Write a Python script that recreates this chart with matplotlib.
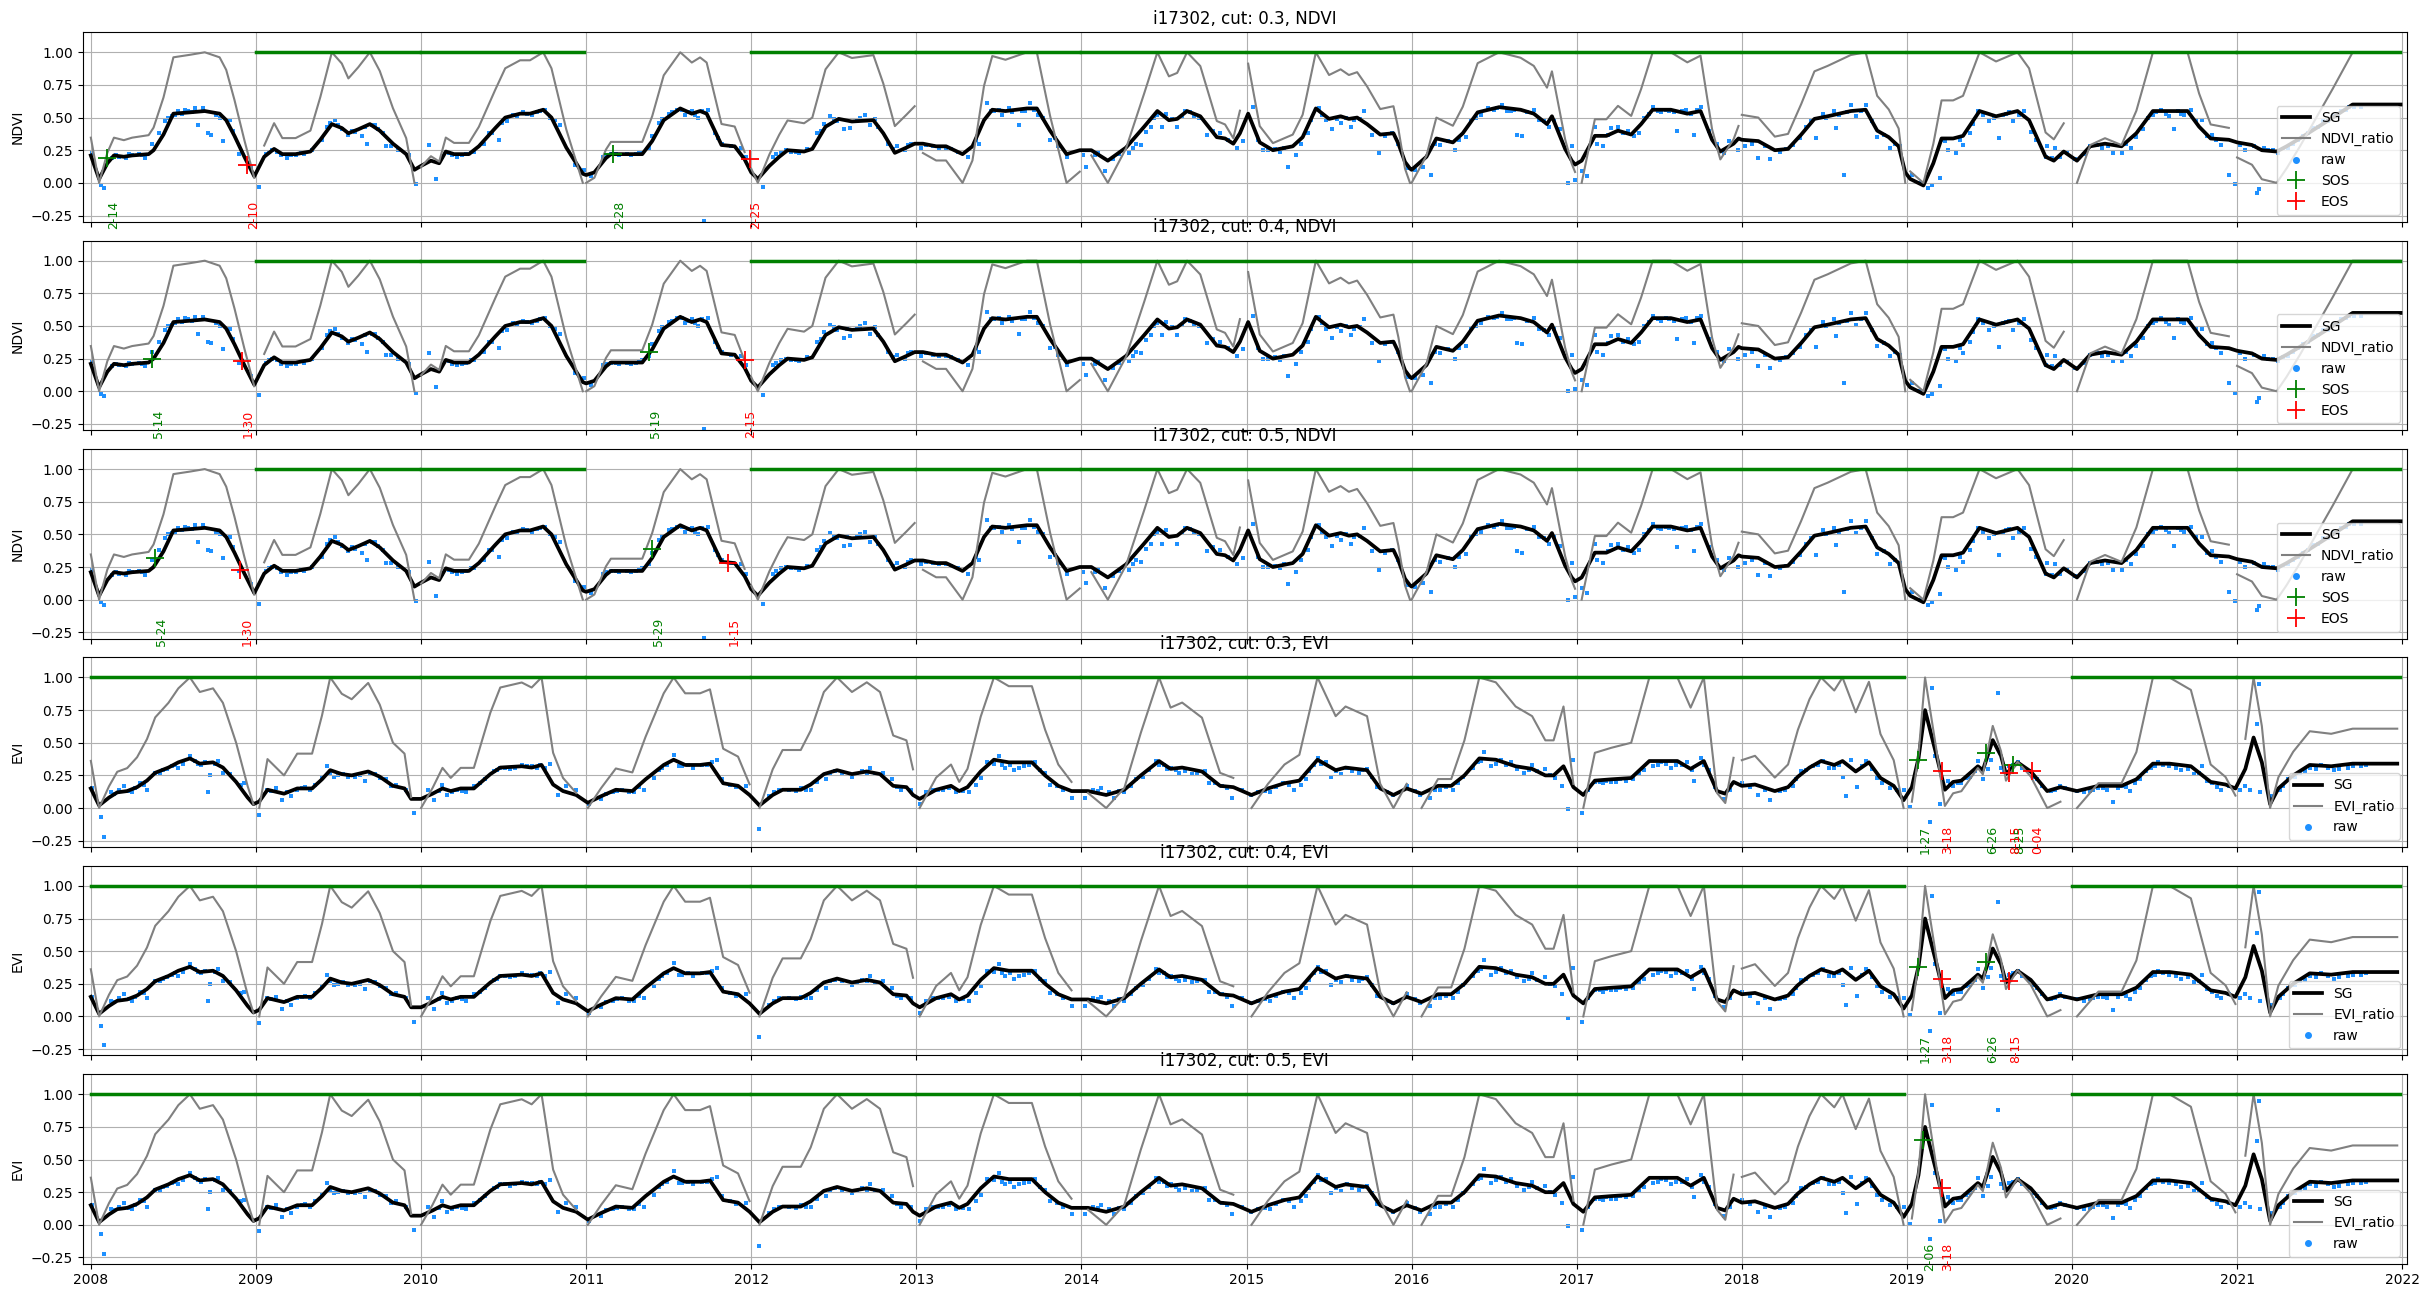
import numpy as np
import matplotlib
matplotlib.use('Agg')
import matplotlib.pyplot as plt
from matplotlib.lines import Line2D

# Smoothed (SG) NDVI curve (decimal year, value)
ndvi_sg_t = [
    2008.00, 2008.05, 2008.10, 2008.14, 2008.20, 2008.25, 2008.35, 2008.38, 2008.44, 2008.50, 2008.60, 2008.69,
    2008.78, 2008.82, 2008.87, 2008.93, 2008.99,
    2009.05, 2009.11, 2009.16, 2009.24, 2009.33, 2009.39, 2009.46, 2009.52, 2009.56, 2009.62, 2009.69, 2009.75,
    2009.83, 2009.91, 2009.96,
    2010.00, 2010.06, 2010.11, 2010.15, 2010.20, 2010.29, 2010.35, 2010.45, 2010.51, 2010.60, 2010.66, 2010.74,
    2010.79, 2010.88, 2010.94, 2010.98,
    2011.00, 2011.05, 2011.12, 2011.15, 2011.34, 2011.40, 2011.47, 2011.57, 2011.64, 2011.69, 2011.73, 2011.82,
    2011.90, 2011.96,
    2012.00, 2012.04, 2012.11, 2012.17, 2012.22, 2012.32, 2012.37, 2012.45, 2012.53, 2012.61, 2012.74, 2012.80,
    2012.87, 2012.94, 2012.99,
    2013.04, 2013.12, 2013.18, 2013.28, 2013.34, 2013.41, 2013.46, 2013.54, 2013.67, 2013.73, 2013.81, 2013.91,
    2013.99,
    2014.06, 2014.16, 2014.27, 2014.38, 2014.46, 2014.53, 2014.58, 2014.64, 2014.72, 2014.82, 2014.87, 2014.92,
    2014.96,
    2015.01, 2015.08, 2015.16, 2015.28, 2015.34, 2015.42, 2015.50, 2015.57, 2015.62, 2015.67, 2015.73, 2015.81,
    2015.89, 2015.92, 2015.96, 2015.99,
    2016.00, 2016.09, 2016.15, 2016.25, 2016.31, 2016.40, 2016.53, 2016.66, 2016.74, 2016.82, 2016.85, 2016.93,
    2016.97, 2016.99,
    2017.03, 2017.11, 2017.18, 2017.25, 2017.33, 2017.39, 2017.46, 2017.57, 2017.67, 2017.75, 2017.82, 2017.87,
    2017.95, 2017.98,
    2018.00, 2018.10, 2018.20, 2018.28, 2018.36, 2018.44, 2018.52, 2018.66, 2018.75, 2018.82, 2018.89, 2018.95,
    2018.99,
    2019.02, 2019.10, 2019.16, 2019.21, 2019.28, 2019.34, 2019.44, 2019.54, 2019.67, 2019.74, 2019.84, 2019.89,
    2019.95,
    2020.03, 2020.11, 2020.20, 2020.30, 2020.39, 2020.49, 2020.62, 2020.70, 2020.77, 2020.84, 2020.95,
    2021.00, 2021.09, 2021.15, 2021.24, 2021.30, 2021.38, 2021.48, 2021.58, 2021.70, 2021.99,
]
ndvi_sg = [
    0.21, 0.03, 0.15, 0.21, 0.20, 0.21, 0.22, 0.25, 0.37, 0.53, 0.54, 0.55,
    0.53, 0.48, 0.36, 0.20, 0.05,
    0.20, 0.26, 0.22, 0.22, 0.24, 0.33, 0.45, 0.42, 0.38, 0.41, 0.45, 0.40,
    0.30, 0.22, 0.10,
    0.13, 0.17, 0.15, 0.24, 0.22, 0.22, 0.28, 0.42, 0.50, 0.53, 0.53, 0.56,
    0.50, 0.27, 0.15, 0.07,
    0.06, 0.08, 0.19, 0.22, 0.22, 0.32, 0.48, 0.57, 0.53, 0.55, 0.53, 0.29,
    0.28, 0.18,
    0.08, 0.03, 0.13, 0.20, 0.25, 0.24, 0.26, 0.43, 0.49, 0.47, 0.48, 0.38,
    0.23, 0.27, 0.30,
    0.30, 0.28, 0.28, 0.22, 0.28, 0.48, 0.56, 0.55, 0.57, 0.57, 0.40, 0.22,
    0.25,
    0.25, 0.17, 0.27, 0.43, 0.55, 0.48, 0.49, 0.55, 0.51, 0.35, 0.34, 0.30,
    0.38,
    0.53, 0.31, 0.25, 0.28, 0.35, 0.57, 0.49, 0.51, 0.49, 0.50, 0.45, 0.37,
    0.38, 0.30, 0.16, 0.11,
    0.10, 0.20, 0.34, 0.31, 0.38, 0.54, 0.58, 0.56, 0.53, 0.45, 0.51, 0.26,
    0.17, 0.14,
    0.17, 0.36, 0.36, 0.40, 0.37, 0.45, 0.56, 0.56, 0.53, 0.55, 0.33, 0.24,
    0.30, 0.34,
    0.33, 0.32, 0.25, 0.26, 0.37, 0.49, 0.51, 0.55, 0.56, 0.40, 0.35, 0.28,
    0.08,
    0.03, -0.02, 0.15, 0.34, 0.34, 0.36, 0.55, 0.51, 0.55, 0.48, 0.20, 0.17,
    0.24,
    0.17, 0.28, 0.30, 0.28, 0.38, 0.55, 0.55, 0.55, 0.43, 0.34, 0.33,
    0.31, 0.29, 0.25, 0.24, 0.28, 0.34, 0.42, 0.50, 0.60, 0.60,
]

# Smoothed (SG) EVI curve
evi_sg_t = [
    2008.00, 2008.05, 2008.11, 2008.16, 2008.22, 2008.28, 2008.34, 2008.39, 2008.47, 2008.53, 2008.60, 2008.66,
    2008.74, 2008.80, 2008.88, 2008.95, 2008.985,
    2009.02, 2009.07, 2009.17, 2009.25, 2009.34, 2009.40, 2009.45, 2009.52, 2009.58, 2009.68, 2009.75, 2009.83,
    2009.90, 2009.94,
    2010.00, 2010.07, 2010.13, 2010.18, 2010.24, 2010.32, 2010.42, 2010.48, 2010.61, 2010.67, 2010.73, 2010.80,
    2010.86, 2010.94,
    2011.01, 2011.09, 2011.18, 2011.28, 2011.36, 2011.47, 2011.53, 2011.60, 2011.69, 2011.75, 2011.83, 2011.92,
    2011.99,
    2012.05, 2012.13, 2012.19, 2012.30, 2012.36, 2012.44, 2012.52, 2012.61, 2012.70, 2012.78, 2012.86, 2012.94,
    2012.98,
    2013.02, 2013.12, 2013.21, 2013.26, 2013.31, 2013.39, 2013.47, 2013.56, 2013.70, 2013.78, 2013.86, 2013.94,
    2014.04, 2014.15, 2014.26, 2014.36, 2014.47, 2014.54, 2014.61, 2014.73, 2014.84, 2014.92,
    2015.03, 2015.13, 2015.23, 2015.32, 2015.43, 2015.54, 2015.60, 2015.73, 2015.81, 2015.89, 2015.97,
    2016.06, 2016.16, 2016.24, 2016.32, 2016.41, 2016.51, 2016.63, 2016.73, 2016.81, 2016.86, 2016.92, 2016.98,
    2017.04, 2017.11, 2017.21, 2017.33, 2017.44, 2017.61, 2017.69, 2017.77, 2017.85, 2017.90, 2017.95,
    2018.00, 2018.08, 2018.20, 2018.28, 2018.34, 2018.41, 2018.48, 2018.56, 2018.61, 2018.69, 2018.77, 2018.84,
    2018.92, 2018.98,
    2019.03, 2019.07, 2019.11, 2019.15, 2019.18, 2019.23, 2019.28, 2019.33, 2019.43, 2019.46, 2019.52, 2019.57,
    2019.60, 2019.67, 2019.75, 2019.85, 2019.93,
    2020.03, 2020.16, 2020.30, 2020.39, 2020.49, 2020.59, 2020.72, 2020.84, 2020.93, 2020.99,
    2021.05, 2021.10, 2021.15, 2021.20, 2021.25, 2021.34, 2021.44, 2021.57, 2021.70, 2021.97,
]
evi_sg = [
    0.15, 0.02, 0.08, 0.12, 0.13, 0.16, 0.21, 0.27, 0.31, 0.35, 0.38, 0.34,
    0.35, 0.31, 0.20, 0.08, 0.03,
    0.05, 0.14, 0.11, 0.15, 0.15, 0.22, 0.29, 0.26, 0.25, 0.28, 0.24, 0.17,
    0.15, 0.07,
    0.07, 0.11, 0.15, 0.13, 0.15, 0.15, 0.26, 0.31, 0.32, 0.31, 0.33, 0.18,
    0.13, 0.10,
    0.04, 0.09, 0.14, 0.13, 0.22, 0.33, 0.37, 0.33, 0.33, 0.34, 0.19, 0.17,
    0.10,
    0.02, 0.10, 0.14, 0.14, 0.18, 0.26, 0.29, 0.26, 0.28, 0.26, 0.17, 0.16,
    0.10,
    0.07, 0.14, 0.17, 0.13, 0.16, 0.28, 0.37, 0.35, 0.35, 0.25, 0.17, 0.13,
    0.13, 0.10, 0.14, 0.25, 0.36, 0.30, 0.31, 0.28, 0.17, 0.16,
    0.10, 0.15, 0.19, 0.21, 0.37, 0.29, 0.31, 0.29, 0.15, 0.10, 0.15,
    0.11, 0.17, 0.17, 0.25, 0.38, 0.37, 0.32, 0.30, 0.25, 0.25, 0.32, 0.16,
    0.10, 0.21, 0.22, 0.23, 0.36, 0.36, 0.30, 0.36, 0.13, 0.11, 0.20,
    0.17, 0.18, 0.13, 0.16, 0.24, 0.31, 0.36, 0.33, 0.36, 0.28, 0.35, 0.23,
    0.17, 0.06,
    0.16, 0.38, 0.75, 0.55, 0.40, 0.14, 0.20, 0.21, 0.32, 0.29, 0.52, 0.40,
    0.26, 0.35, 0.28, 0.13, 0.16,
    0.13, 0.17, 0.17, 0.22, 0.34, 0.34, 0.32, 0.20, 0.18, 0.15,
    0.30, 0.54, 0.35, 0.03, 0.15, 0.25, 0.33, 0.32, 0.34, 0.34,
]

# Raw NDVI observations (outliers first per year, then points along the curve)
ndvi_raw_t = [
    2008.01, 2008.06, 2008.08, 2008.13, 2008.17, 2008.21, 2008.25, 2008.29, 2008.33, 2008.37, 2008.41, 2008.45,
    2008.49, 2008.53, 2008.57, 2008.61, 2008.65, 2008.68, 2008.71, 2008.73, 2008.76, 2008.80, 2008.84, 2008.90,
    2008.97,
    2009.02, 2009.06, 2009.10, 2009.15, 2009.19, 2009.24, 2009.29, 2009.34, 2009.40, 2009.45, 2009.48, 2009.52,
    2009.56, 2009.60, 2009.64, 2009.67, 2009.70, 2009.74, 2009.79, 2009.86, 2009.93, 2009.97,
    2010.05, 2010.09, 2010.13, 2010.17, 2010.22, 2010.27, 2010.32, 2010.38, 2010.43, 2010.47, 2010.52, 2010.56,
    2010.62, 2010.67, 2010.72, 2010.78, 2010.84, 2010.93, 2010.99,
    2011.03, 2011.10, 2011.15, 2011.20, 2011.25, 2011.30, 2011.34, 2011.38, 2011.40, 2011.44, 2011.50, 2011.55,
    2011.60, 2011.64, 2011.68, 2011.715, 2011.74, 2011.78, 2011.82, 2011.88, 2011.94, 2011.97,
    2012.07, 2012.13, 2012.18, 2012.24, 2012.29, 2012.34, 2012.40, 2012.44, 2012.48, 2012.52, 2012.56, 2012.60,
    2012.64, 2012.69, 2012.72, 2012.77, 2012.83, 2012.88, 2012.93, 2012.97,
    2013.03, 2013.10, 2013.18, 2013.25, 2013.31, 2013.38, 2013.43, 2013.47, 2013.52, 2013.56, 2013.62, 2013.66,
    2013.69, 2013.74, 2013.81, 2013.86, 2013.91,
    2014.01, 2014.03, 2014.08, 2014.14, 2014.19, 2014.29, 2014.33, 2014.36, 2014.42, 2014.46, 2014.49, 2014.51,
    2014.58, 2014.63, 2014.68, 2014.76, 2014.84, 2014.94, 2014.98,
    2015.04, 2015.10, 2015.13, 2015.20, 2015.25, 2015.30, 2015.33, 2015.37, 2015.44, 2015.48, 2015.52, 2015.57,
    2015.63, 2015.71, 2015.76, 2015.80, 2015.88, 2015.98,
    2016.02, 2016.07, 2016.12, 2016.17, 2016.26, 2016.33, 2016.36, 2016.42, 2016.46, 2016.55, 2016.60, 2016.64,
    2016.67, 2016.74, 2016.77, 2016.83, 2016.90, 2016.95, 2016.97, 2016.99,
    2017.03, 2017.06, 2017.11, 2017.12, 2017.16, 2017.21, 2017.25, 2017.31, 2017.38, 2017.41, 2017.46, 2017.51,
    2017.56, 2017.61, 2017.66, 2017.71, 2017.75, 2017.80, 2017.89, 2017.92, 2017.98,
    2018.02, 2018.10, 2018.17, 2018.23, 2018.31, 2018.39, 2018.45, 2018.49, 2018.56, 2018.57, 2018.62, 2018.66,
    2018.69, 2018.75, 2018.82, 2018.90, 2018.96,
    2019.03, 2019.08, 2019.13, 2019.15, 2019.20, 2019.21, 2019.25, 2019.30, 2019.34, 2019.38, 2019.43, 2019.50,
    2019.56, 2019.60, 2019.64, 2019.71, 2019.75, 2019.84, 2019.85, 2019.90, 2019.93,
    2020.02, 2020.11, 2020.18, 2020.25, 2020.30, 2020.36, 2020.43, 2020.49, 2020.54, 2020.59, 2020.62, 2020.66,
    2020.72, 2020.79, 2020.85, 2020.90, 2020.95, 2020.99,
    2021.05, 2021.10, 2021.12, 2021.13, 2021.16, 2021.22, 2021.28, 2021.34, 2021.40, 2021.46, 2021.52, 2021.58,
    2021.63, 2021.68, 2021.75,
    # more points hugging the curve
    2008.15, 2008.23, 2008.31, 2008.47, 2008.51, 2008.55, 2008.59, 2008.63, 2008.78, 2008.86,
    2009.08, 2009.13, 2009.21, 2009.27, 2009.43, 2009.50, 2009.58, 2009.66, 2009.72, 2009.77, 2009.82,
    2010.11, 2010.19, 2010.25, 2010.30, 2010.41, 2010.49, 2010.58, 2010.64, 2010.70, 2010.75, 2010.81,
    2011.12, 2011.18, 2011.27, 2011.32, 2011.46, 2011.52, 2011.58, 2011.62, 2011.66, 2011.70, 2011.80,
    2012.15, 2012.21, 2012.27, 2012.42, 2012.50, 2012.58, 2012.66, 2012.75, 2012.86, 2012.95,
    2013.06, 2013.14, 2013.21, 2013.36, 2013.45, 2013.50, 2013.58, 2013.64, 2013.71, 2013.77, 2013.84,
    2014.10, 2014.23, 2014.31, 2014.39, 2014.44, 2014.55, 2014.61, 2014.66, 2014.71, 2014.80, 2014.89,
    2015.07, 2015.17, 2015.23, 2015.39, 2015.46, 2015.55, 2015.60, 2015.65, 2015.69, 2015.84, 2015.92,
    2016.14, 2016.22, 2016.29, 2016.39, 2016.50, 2016.52, 2016.58, 2016.62, 2016.70, 2016.80, 2016.86,
    2017.09, 2017.19, 2017.28, 2017.35, 2017.44, 2017.49, 2017.54, 2017.59, 2017.64, 2017.69, 2017.73, 2017.85,
    2018.06, 2018.14, 2018.27, 2018.35, 2018.42, 2018.51, 2018.59, 2018.64, 2018.72, 2018.79, 2018.86, 2018.93,
    2019.23, 2019.32, 2019.40, 2019.46, 2019.53, 2019.58, 2019.62, 2019.68, 2019.78, 2019.88, 2019.97,
    2020.07, 2020.15, 2020.22, 2020.33, 2020.39, 2020.46, 2020.51, 2020.57, 2020.64, 2020.68, 2020.75, 2020.82,
    2020.87,
    2021.02, 2021.19, 2021.25, 2021.31, 2021.37, 2021.43, 2021.49, 2021.55, 2021.61, 2021.66, 2021.71,
]
ndvi_raw = [
    0.23, -0.02, -0.04, 0.19, 0.20, 0.19, 0.21, 0.22, 0.19, 0.30, 0.38, 0.47,
    0.51, 0.55, 0.56, 0.54, 0.44, 0.57, 0.38, 0.37, 0.52, 0.32, 0.48, 0.22,
    0.12,
    -0.03, 0.22, 0.25, 0.21, 0.19, 0.21, 0.22, 0.25, 0.33, 0.46, 0.48, 0.41,
    0.37, 0.39, 0.36, 0.30, 0.44, 0.41, 0.28, 0.25, 0.21, -0.01,
    0.29, 0.03, 0.20, 0.23, 0.20, 0.22, 0.24, 0.30, 0.38, 0.33, 0.47, 0.52,
    0.54, 0.52, 0.55, 0.50, 0.44, 0.14, 0.10,
    0.05, 0.20, 0.22, 0.21, 0.22, 0.22, 0.24, 0.27, 0.36, 0.46, 0.53, 0.56,
    0.52, 0.55, 0.50, -0.29, 0.56, 0.38, 0.30, 0.28, 0.27, 0.20,
    -0.03, 0.20, 0.24, 0.24, 0.23, 0.26, 0.38, 0.45, 0.51, 0.47, 0.41, 0.42,
    0.48, 0.52, 0.44, 0.43, 0.30, 0.28, 0.25, 0.30,
    0.27, 0.28, 0.27, 0.24, 0.20, 0.30, 0.61, 0.55, 0.52, 0.57, 0.44, 0.55,
    0.61, 0.52, 0.33, 0.28, 0.20,
    0.21, 0.125, 0.21, 0.09, 0.18, 0.23, 0.30, 0.29, 0.43, 0.52, 0.43, 0.53,
    0.43, 0.55, 0.51, 0.37, 0.38, 0.27, 0.32,
    0.58, 0.25, 0.25, 0.24, 0.12, 0.21, 0.30, 0.38, 0.57, 0.48, 0.41, 0.46,
    0.43, 0.55, 0.37, 0.23, 0.38, 0.11,
    0.10, 0.125, 0.06, 0.29, 0.25, 0.35, 0.48, 0.52, 0.57, 0.60, 0.55, 0.37,
    0.36, 0.56, 0.48, 0.43, 0.41, 0.00, 0.28, 0.02,
    0.09, 0.05, 0.43, 0.30, 0.28, 0.42, 0.43, 0.40, 0.38, 0.50, 0.58, 0.54,
    0.55, 0.40, 0.56, 0.37, 0.58, 0.40, 0.23, 0.32, 0.25,
    0.28, 0.19, 0.18, 0.24, 0.29, 0.43, 0.34, 0.53, 0.55, 0.42, 0.06, 0.60,
    0.51, 0.60, 0.35, 0.27, 0.28,
    0.06, 0.00, -0.04, -0.02, 0.04, 0.33, 0.25, 0.23, 0.29, 0.38, 0.55, 0.47,
    0.34, 0.53, 0.47, 0.55, 0.39, 0.20, 0.28, 0.27, 0.20,
    0.18, 0.28, 0.27, 0.23, 0.23, 0.27, 0.41, 0.52, 0.56, 0.51, 0.41, 0.53,
    0.56, 0.48, 0.37, 0.29, 0.06, -0.01,
    0.25, 0.28, -0.08, -0.05, 0.27, 0.25, 0.26, 0.30, 0.36, 0.42, 0.47, 0.51,
    0.55, 0.58, 0.58,
    # more points hugging the curve
    0.21, 0.22, 0.21, 0.50, 0.52, 0.53, 0.55, 0.57, 0.50, 0.40,
    0.24, 0.24, 0.21, 0.23, 0.43, 0.44, 0.40, 0.43, 0.44, 0.38, 0.28,
    0.16, 0.21, 0.21, 0.24, 0.38, 0.46, 0.51, 0.53, 0.54, 0.56, 0.48,
    0.21, 0.22, 0.21, 0.23, 0.49, 0.54, 0.56, 0.54, 0.52, 0.55, 0.34,
    0.22, 0.25, 0.24, 0.40, 0.49, 0.48, 0.50, 0.49, 0.26, 0.29,
    0.29, 0.27, 0.26, 0.33, 0.55, 0.56, 0.54, 0.55, 0.56, 0.50, 0.34,
    0.23, 0.22, 0.27, 0.39, 0.50, 0.49, 0.51, 0.54, 0.50, 0.40, 0.33,
    0.33, 0.26, 0.27, 0.48, 0.52, 0.49, 0.50, 0.48, 0.49, 0.36, 0.30,
    0.30, 0.32, 0.33, 0.50, 0.56, 0.57, 0.55, 0.56, 0.54, 0.47, 0.48,
    0.33, 0.37, 0.38, 0.36, 0.53, 0.55, 0.56, 0.54, 0.55, 0.53, 0.56, 0.30,
    0.30, 0.28, 0.26, 0.34, 0.47, 0.50, 0.52, 0.54, 0.55, 0.47, 0.37, 0.30,
    0.32, 0.33, 0.45, 0.52, 0.50, 0.52, 0.54, 0.52, 0.33, 0.19, 0.23,
    0.22, 0.29, 0.28, 0.30, 0.35, 0.50, 0.54, 0.53, 0.55, 0.52, 0.48, 0.36,
    0.33,
    0.29, 0.25, 0.23, 0.27, 0.33, 0.38, 0.43, 0.47, 0.52, 0.56, 0.58,
]

# Raw EVI observations
evi_raw_t = [
    2008.01, 2008.06, 2008.08, 2008.12, 2008.17, 2008.20, 2008.25, 2008.30, 2008.34, 2008.39, 2008.44, 2008.49,
    2008.53, 2008.60, 2008.65, 2008.69, 2008.71, 2008.72, 2008.77, 2008.80, 2008.91, 2008.93,
    2009.02, 2009.07, 2009.12, 2009.16, 2009.21, 2009.25, 2009.30, 2009.36, 2009.40, 2009.43, 2009.47, 2009.53,
    2009.60, 2009.66, 2009.72, 2009.79, 2009.85, 2009.91, 2009.96,
    2010.04, 2010.08, 2010.13, 2010.16, 2010.22, 2010.27, 2010.32, 2010.39, 2010.44, 2010.48, 2010.54, 2010.61,
    2010.67, 2010.75, 2010.78, 2010.83, 2010.88, 2010.94,
    2011.02, 2011.09, 2011.16, 2011.22, 2011.29, 2011.35, 2011.41, 2011.46, 2011.53, 2011.56, 2011.62, 2011.70,
    2011.79, 2011.82, 2011.87, 2011.97,
    2012.05, 2012.11, 2012.17, 2012.23, 2012.30, 2012.36, 2012.45, 2012.51, 2012.61, 2012.67, 2012.72, 2012.80,
    2012.85, 2012.91, 2012.97,
    2013.02, 2013.10, 2013.16, 2013.24, 2013.32, 2013.39, 2013.43, 2013.50, 2013.54, 2013.59, 2013.65, 2013.72,
    2013.78, 2013.81, 2013.89, 2013.94,
    2014.02, 2014.07, 2014.12, 2014.20, 2014.26, 2014.33, 2014.37, 2014.45, 2014.50, 2014.54, 2014.59, 2014.67,
    2014.75, 2014.77, 2014.85, 2014.91, 2014.97,
    2015.03, 2015.11, 2015.14, 2015.22, 2015.29, 2015.33, 2015.38, 2015.43, 2015.48, 2015.51, 2015.57, 2015.61,
    2015.68, 2015.73, 2015.79, 2015.89, 2015.97,
    2016.05, 2016.11, 2016.17, 2016.25, 2016.31, 2016.37, 2016.44, 2016.48, 2016.54, 2016.60, 2016.68, 2016.73,
    2016.81, 2016.87, 2016.91, 2016.95, 2016.98,
    2017.03, 2017.11, 2017.16, 2017.21, 2017.26, 2017.34, 2017.41, 2017.46, 2017.51, 2017.57, 2017.64, 2017.67,
    2017.71, 2017.75, 2017.80, 2017.89, 2017.93,
    2018.00, 2018.10, 2018.17, 2018.23, 2018.31, 2018.36, 2018.43, 2018.49, 2018.56, 2018.61, 2018.63, 2018.66,
    2018.70, 2018.75, 2018.82, 2018.85, 2018.90, 2018.98,
    2019.02, 2019.14, 2019.15, 2019.17, 2019.20, 2019.25, 2019.28, 2019.33, 2019.38, 2019.43, 2019.46, 2019.51,
    2019.55, 2019.57, 2019.62, 2019.67, 2019.74, 2019.79, 2019.87, 2019.93,
    2020.03, 2020.11, 2020.16, 2020.21, 2020.25, 2020.30, 2020.35, 2020.41, 2020.48, 2020.52, 2020.59, 2020.66,
    2020.74, 2020.79, 2020.85, 2020.90, 2020.95,
    2021.02, 2021.08, 2021.12, 2021.13, 2021.14, 2021.21, 2021.26, 2021.31, 2021.38, 2021.44, 2021.51, 2021.59,
    2021.67, 2021.75,
    # more points hugging the curve
    2008.14, 2008.23, 2008.27, 2008.32, 2008.42, 2008.46, 2008.51, 2008.56, 2008.63, 2008.67, 2008.75, 2008.84,
    2009.09, 2009.19, 2009.28, 2009.33, 2009.45, 2009.50, 2009.56, 2009.63, 2009.69, 2009.75, 2009.82,
    2010.11, 2010.19, 2010.25, 2010.36, 2010.46, 2010.51, 2010.57, 2010.64, 2010.70, 2010.72,
    2011.12, 2011.19, 2011.26, 2011.32, 2011.44, 2011.49, 2011.58, 2011.65, 2011.73, 2011.76, 2011.91,
    2012.14, 2012.27, 2012.33, 2012.40, 2012.48, 2012.55, 2012.64, 2012.70, 2012.75, 2012.88,
    2013.06, 2013.13, 2013.20, 2013.28, 2013.36, 2013.47, 2013.52, 2013.57, 2013.62, 2013.68, 2013.75, 2013.85,
    2014.10, 2014.17, 2014.23, 2014.30, 2014.41, 2014.47, 2014.52, 2014.57, 2014.63, 2014.70, 2014.81, 2014.88,
    2015.07, 2015.18, 2015.26, 2015.36, 2015.41, 2015.45, 2015.54, 2015.64, 2015.70, 2015.76, 2015.85,
    2016.02, 2016.14, 2016.21, 2016.28, 2016.40, 2016.42, 2016.51, 2016.57, 2016.64, 2016.71, 2016.76, 2016.84,
    2017.07, 2017.14, 2017.18, 2017.24, 2017.30, 2017.38, 2017.49, 2017.54, 2017.60, 2017.70, 2017.77, 2017.84,
    2018.05, 2018.14, 2018.26, 2018.33, 2018.39, 2018.46, 2018.53, 2018.59, 2018.73, 2018.79, 2018.94,
    2019.26, 2019.31, 2019.36, 2019.41, 2019.49, 2019.59, 2019.64, 2019.70, 2019.77, 2019.82, 2019.90, 2019.96,
    2020.07, 2020.13, 2020.19, 2020.28, 2020.33, 2020.38, 2020.45, 2020.50, 2020.55, 2020.63, 2020.70, 2020.77,
    2020.82, 2020.88,
    2021.05, 2021.28, 2021.35, 2021.41, 2021.48, 2021.55, 2021.62, 2021.70, 2021.78,
]
evi_raw = [
    0.15, -0.07, -0.22, 0.12, 0.14, 0.17, 0.12, 0.19, 0.14, 0.27, 0.29, 0.32,
    0.31, 0.40, 0.34, 0.35, 0.12, 0.25, 0.36, 0.27, 0.18, 0.19,
    -0.05, 0.14, 0.15, 0.06, 0.09, 0.14, 0.16, 0.18, 0.23, 0.32, 0.24, 0.26,
    0.24, 0.21, 0.26, 0.22, 0.18, 0.14, -0.04,
    0.14, 0.06, 0.18, 0.10, 0.14, 0.12, 0.17, 0.22, 0.28, 0.31, 0.30, 0.33,
    0.32, 0.31, 0.34, 0.10, 0.17, 0.14,
    0.03, 0.07, 0.12, 0.14, 0.12, 0.14, 0.23, 0.31, 0.41, 0.32, 0.33, 0.33,
    0.37, 0.22, 0.18, 0.17,
    -0.16, 0.09, 0.14, 0.14, 0.15, 0.14, 0.22, 0.28, 0.24, 0.28, 0.31, 0.27,
    0.22, 0.14, 0.14,
    0.03, 0.14, 0.14, 0.12, 0.12, 0.23, 0.35, 0.40, 0.31, 0.29, 0.32, 0.35,
    0.27, 0.18, 0.14, 0.08,
    0.08, 0.14, 0.15, 0.08, 0.12, 0.22, 0.24, 0.36, 0.33, 0.31, 0.27, 0.26,
    0.28, 0.19, 0.17, 0.08, 0.14,
    0.10, 0.13, 0.12, 0.19, 0.14, 0.18, 0.28, 0.38, 0.35, 0.24, 0.26, 0.31,
    0.27, 0.30, 0.16, 0.10, 0.17,
    0.10, 0.08, 0.14, 0.14, 0.24, 0.31, 0.43, 0.32, 0.37, 0.35, 0.27, 0.33,
    0.30, 0.23, 0.17, -0.01, 0.37,
    -0.04, 0.20, 0.19, 0.20, 0.22, 0.22, 0.29, 0.32, 0.35, 0.31, 0.33, 0.35,
    0.21, 0.38, 0.29, 0.07, 0.14,
    0.19, 0.10, 0.06, 0.13, 0.17, 0.28, 0.32, 0.36, 0.31, 0.24, 0.09, 0.37,
    0.16, 0.36, 0.23, 0.19, 0.15, 0.14,
    0.01, -0.11, 0.92, 0.40, 0.03, 0.21, 0.17, 0.19, 0.24, 0.36, 0.22, 0.37,
    0.88, 0.31, 0.32, 0.35, 0.28, 0.22, 0.13, 0.17,
    0.13, 0.13, 0.15, 0.14, 0.05, 0.17, 0.13, 0.22, 0.31, 0.35, 0.32, 0.29,
    0.26, 0.32, 0.19, 0.14, 0.17,
    0.14, 0.14, 0.64, 0.95, 0.12, 0.09, 0.14, 0.22, 0.27, 0.31, 0.33, 0.29,
    0.31, 0.32,
    # more points hugging the curve
    0.11, 0.13, 0.15, 0.18, 0.27, 0.30, 0.33, 0.34, 0.36, 0.33, 0.34, 0.26,
    0.13, 0.12, 0.15, 0.14, 0.27, 0.25, 0.24, 0.25, 0.27, 0.23, 0.17,
    0.13, 0.12, 0.13, 0.19, 0.29, 0.31, 0.31, 0.32, 0.31, 0.33,
    0.11, 0.13, 0.12, 0.16, 0.29, 0.33, 0.32, 0.31, 0.33, 0.35, 0.16,
    0.12, 0.13, 0.14, 0.20, 0.27, 0.27, 0.26, 0.27, 0.26, 0.16,
    0.12, 0.14, 0.15, 0.13, 0.18, 0.34, 0.33, 0.33, 0.31, 0.33, 0.29, 0.17,
    0.13, 0.12, 0.13, 0.17, 0.29, 0.33, 0.30, 0.29, 0.28, 0.27, 0.19, 0.15,
    0.12, 0.16, 0.18, 0.22, 0.33, 0.34, 0.28, 0.28, 0.29, 0.24, 0.12,
    0.13, 0.14, 0.16, 0.19, 0.35, 0.36, 0.34, 0.33, 0.30, 0.29, 0.28, 0.25,
    0.14, 0.20, 0.21, 0.20, 0.21, 0.26, 0.33, 0.34, 0.33, 0.29, 0.33, 0.16,
    0.16, 0.14, 0.14, 0.22, 0.29, 0.33, 0.31, 0.33, 0.32, 0.30, 0.14,
    0.18, 0.19, 0.23, 0.28, 0.30, 0.28, 0.33, 0.31, 0.24, 0.17, 0.14, 0.15,
    0.12, 0.14, 0.15, 0.15, 0.16, 0.19, 0.28, 0.32, 0.33, 0.31, 0.30, 0.27,
    0.21, 0.16,
    0.17, 0.17, 0.24, 0.28, 0.30, 0.31, 0.30, 0.32, 0.33,
]

# years carrying the flag line drawn at 1.0
ndvi_flag_years = [2009, 2010, 2012, 2013, 2014, 2015, 2016, 2017, 2018, 2019, 2020, 2021]
evi_flag_years = [2008, 2009, 2010, 2011, 2012, 2013, 2014, 2015, 2016, 2017, 2018, 2020, 2021]

# one entry per panel
titles = ['i17302, cut: 0.3, NDVI', 'i17302, cut: 0.4, NDVI', 'i17302, cut: 0.5, NDVI',
          'i17302, cut: 0.3, EVI', 'i17302, cut: 0.4, EVI', 'i17302, cut: 0.5, EVI']
indices = ['NDVI', 'NDVI', 'NDVI', 'EVI', 'EVI', 'EVI']
sos_t = [[2008.10, 2011.165], [2008.37, 2011.38], [2008.39, 2011.40],
         [2019.07, 2019.48, 2019.645], [2019.07, 2019.48], [2019.10]]
sos_v = [[0.19, 0.22], [0.25, 0.30], [0.32, 0.39],
         [0.37, 0.42, 0.33], [0.38, 0.42], [0.65]]
sos_lbl = [['2-14', '2-28'], ['5-14', '5-19'], ['5-24', '5-29'],
           ['1-27', '6-26', '8-25'], ['1-27', '6-26'], ['2-06']]
eos_t = [[2008.944, 2011.99], [2008.915, 2011.96], [2008.905, 2011.86],
         [2019.21, 2019.62, 2019.755], [2019.21, 2019.62], [2019.21]]
eos_v = [[0.14, 0.18], [0.23, 0.24], [0.23, 0.28],
         [0.28, 0.27, 0.28], [0.285, 0.27], [0.28]]
eos_lbl = [['2-10', '2-25'], ['1-30', '2-15'], ['1-30', '1-15'],
           ['3-18', '8-15', '0-04'], ['3-18', '8-15'], ['3-18']]

series = {
    'NDVI': (ndvi_sg_t, ndvi_sg, ndvi_raw_t, ndvi_raw, ndvi_flag_years),
    'EVI': (evi_sg_t, evi_sg, evi_raw_t, evi_raw, evi_flag_years),
}


def yearly_ratio(t, v):
    # each calendar year of the SG curve rescaled to 0..1, NaN between years
    t = np.asarray(t)
    v = np.asarray(v)
    xs, ys = [], []
    for yr in np.unique(np.floor(t)):
        m = np.floor(t) == yr
        seg = v[m]
        xs += list(t[m]) + [np.nan]
        ys += list((seg - seg.min()) / (seg.max() - seg.min())) + [np.nan]
    return xs, ys


fig, axes = plt.subplots(6, 1, sharex=True, figsize=(24.29, 12.98), dpi=100)
fig.subplots_adjust(left=0.034, right=0.991, bottom=0.0264, top=0.9751, hspace=0.1)

for i, ax in enumerate(axes):
    idx = indices[i]
    sg_t, sg_v, raw_t, raw_v, flag_years = series[idx]
    ratio_t, ratio_v = yearly_ratio(sg_t, sg_v)

    ax.plot(sg_t, sg_v, color='black', lw=2.7, label='SG')
    ax.plot(ratio_t, ratio_v, color='gray', lw=1.5, label=idx + '_ratio')
    ax.scatter(raw_t, raw_v, s=10, marker='s', color='dodgerblue', linewidths=0, label='raw')
    for yr in flag_years:
        ax.plot([yr, yr + 0.985], [1, 1], color='green', lw=2.5)

    lbl_on = idx == 'NDVI'
    ax.plot(sos_t[i], sos_v[i], '+', color='green', ms=13, mew=1.3,
            label='SOS' if lbl_on else '_nolegend_')
    ax.plot(eos_t[i], eos_v[i], '+', color='red', ms=13, mew=1.3,
            label='EOS' if lbl_on else '_nolegend_')
    for x, lbl in zip(sos_t[i], sos_lbl[i]):
        ax.text(x, -0.355, lbl, rotation=90, color='green', ha='left', va='bottom', fontsize=9)
    for x, lbl in zip(eos_t[i], eos_lbl[i]):
        ax.text(x, -0.355, lbl, rotation=90, color='red', ha='left', va='bottom', fontsize=9)

    ax.set_title(titles[i])
    ax.set_ylabel(idx)
    ax.set_ylim(-0.298, 1.153)
    ax.set_yticks([-0.25, 0.0, 0.25, 0.5, 0.75, 1.0])
    ax.grid(True)

    # the legend shows the raw points as a round dot
    handles, labels = ax.get_legend_handles_labels()
    handles = [Line2D([], [], ls='', marker='o', ms=4, color='dodgerblue') if l == 'raw' else h
               for h, l in zip(handles, labels)]
    ax.legend(handles, labels, loc='lower right')

axes[-1].set_xlim(2007.95, 2022.03)
axes[-1].set_xticks(list(range(2008, 2023)))
axes[-1].set_xticklabels([str(y) for y in range(2008, 2023)])

fig.savefig('out.png', dpi=100)
